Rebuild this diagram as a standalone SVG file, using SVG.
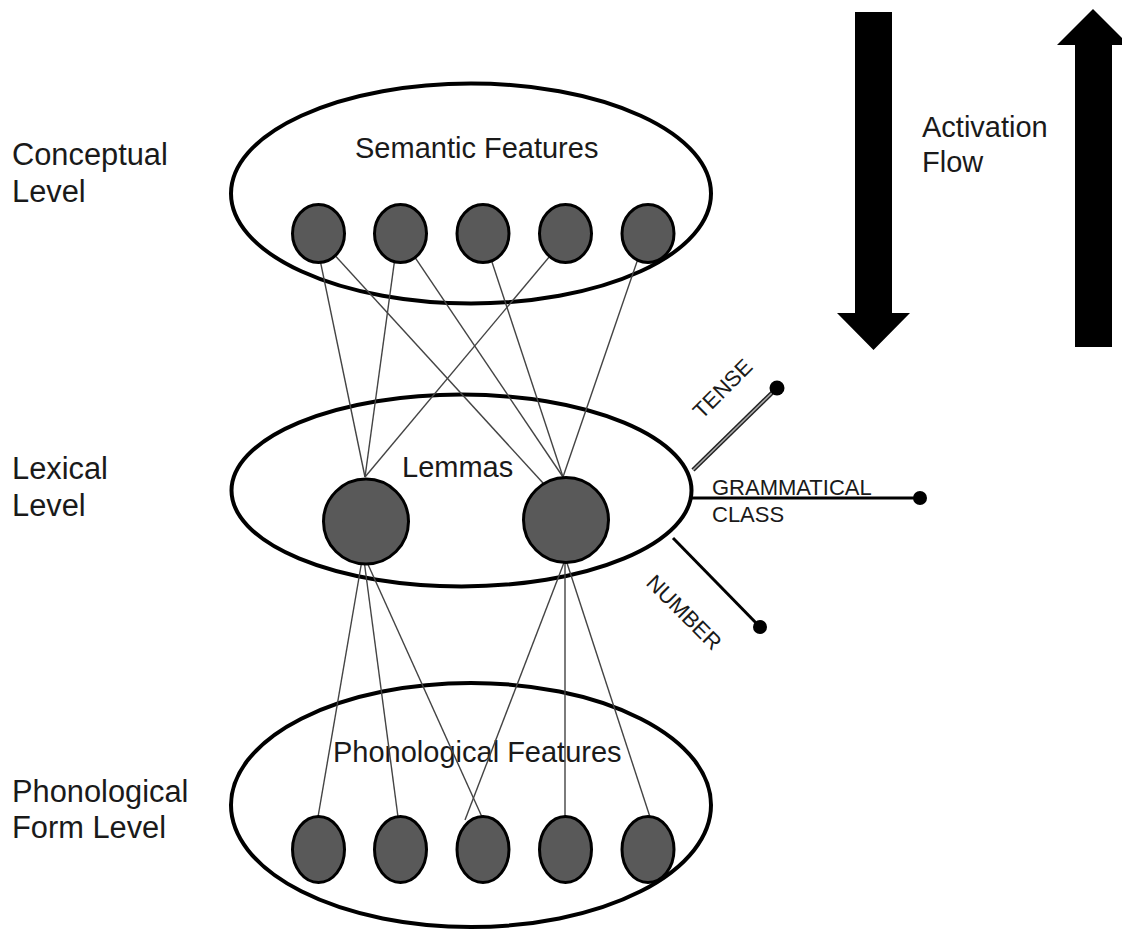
<svg xmlns="http://www.w3.org/2000/svg" width="1122" height="930" viewBox="0 0 1122 930">
<style>
.lbl{font-family:"Liberation Sans",Arial,sans-serif;font-size:29px;fill:#1a1a1a}
.big{font-family:"Liberation Sans",Arial,sans-serif;font-size:30.8px;fill:#1a1a1a}
.sm{font-family:"Liberation Sans",Arial,sans-serif;font-size:22px;fill:#1a1a1a}
.layer{fill:#fff;stroke:#000;stroke-width:4}
.node{fill:#595959;stroke:#000;stroke-width:3}
.con{stroke:#444;stroke-width:1.4;fill:none}
.attr{stroke:#000;stroke-width:3;fill:none}
.dot{fill:#000}
</style>
<rect width="1122" height="930" fill="#fff"/>
<g id="levels-labels">
<text class="big" x="12" y="165">Conceptual</text>
<text class="big" x="12" y="202">Level</text>
<text class="big" x="12" y="479">Lexical</text>
<text class="big" x="12" y="516">Level</text>
<text class="big" x="12" y="802">Phonological</text>
<text class="big" x="12" y="838">Form Level</text>
</g>
<g id="activation-flow">
<polygon points="855,12 892,12 892,313 910,313 873.5,350 837,313 855,313" fill="#000"/>
<polygon points="1075,347 1112,347 1112,45 1129,45 1093,9 1057,45 1075,45" fill="#000"/>
<text class="lbl" x="922" y="137">Activation</text>
<text class="lbl" x="922" y="172">Flow</text>
</g>
<g id="layer-semantic"><ellipse class="layer" cx="471" cy="193.5" rx="240" ry="110"/>
<text class="lbl" x="355" y="158">Semantic Features</text></g>
<g id="layer-lexical"><ellipse class="layer" cx="461.5" cy="490.5" rx="230" ry="96"/>
<text class="lbl" x="402" y="477">Lemmas</text></g>
<g id="layer-phonological"><ellipse class="layer" cx="471" cy="805" rx="240" ry="122"/>
<text class="lbl" x="333" y="762">Phonological Features</text></g>
<g id="attributes">
<line x1="693" y1="470" x2="777" y2="388" stroke="#222" stroke-width="4.5"/>
<line x1="693" y1="470" x2="777" y2="388" stroke="#aaa" stroke-width="1.6"/>
<circle class="dot" cx="777" cy="388" r="7.5"/>
<line class="attr" x1="692" y1="498" x2="920" y2="498"/>
<circle class="dot" cx="920" cy="498" r="7"/>
<line class="attr" x1="673" y1="538" x2="760" y2="627"/>
<circle class="dot" cx="760" cy="627" r="7"/>
<text class="sm" transform="translate(702,420) rotate(-45)">TENSE</text>
<text class="sm" x="712" y="495">GRAMMATICAL</text>
<text class="sm" x="712" y="522">CLASS</text>
<text class="sm" transform="translate(645,584) rotate(45)">NUMBER</text>
</g>
<g id="connectors">
<line class="con" x1="318" y1="250" x2="365" y2="477"/>
<line class="con" x1="330" y1="250" x2="543" y2="483"/>
<line class="con" x1="396" y1="250" x2="365" y2="477"/>
<line class="con" x1="410" y1="250" x2="563" y2="477"/>
<line class="con" x1="488" y1="250" x2="563" y2="477"/>
<line class="con" x1="555" y1="250" x2="365" y2="477"/>
<line class="con" x1="641" y1="250" x2="563" y2="477"/>
<line class="con" x1="362" y1="560" x2="318" y2="817"/>
<line class="con" x1="364" y1="560" x2="398" y2="817"/>
<line class="con" x1="366" y1="560" x2="482" y2="817"/>
<line class="con" x1="565" y1="560" x2="465" y2="820"/>
<line class="con" x1="565" y1="560" x2="565" y2="817"/>
<line class="con" x1="566" y1="560" x2="650" y2="817"/>
</g>
<g id="semantic-nodes">
<ellipse id="s1" class="node" cx="318.5" cy="233.5" rx="26" ry="29"/>
<ellipse id="s2" class="node" cx="400.5" cy="233.5" rx="26" ry="29"/>
<ellipse id="s3" class="node" cx="483" cy="233.5" rx="26" ry="29"/>
<ellipse id="s4" class="node" cx="565.5" cy="233.5" rx="26" ry="29"/>
<ellipse id="s5" class="node" cx="648" cy="233.5" rx="26" ry="29"/>
</g>
<g id="lemma-nodes">
<circle id="lemma1" class="node" cx="366" cy="521.5" r="42.5"/>
<circle id="lemma2" class="node" cx="566" cy="520" r="42.5"/>
</g>
<g id="phonological-nodes">
<ellipse id="p1" class="node" cx="318.5" cy="849.5" rx="26" ry="33"/>
<ellipse id="p2" class="node" cx="400.5" cy="849.5" rx="26" ry="33"/>
<ellipse id="p3" class="node" cx="483" cy="849.5" rx="26" ry="33"/>
<ellipse id="p4" class="node" cx="565.5" cy="849.5" rx="26" ry="33"/>
<ellipse id="p5" class="node" cx="648" cy="849.5" rx="26" ry="33"/>
</g>
</svg>
